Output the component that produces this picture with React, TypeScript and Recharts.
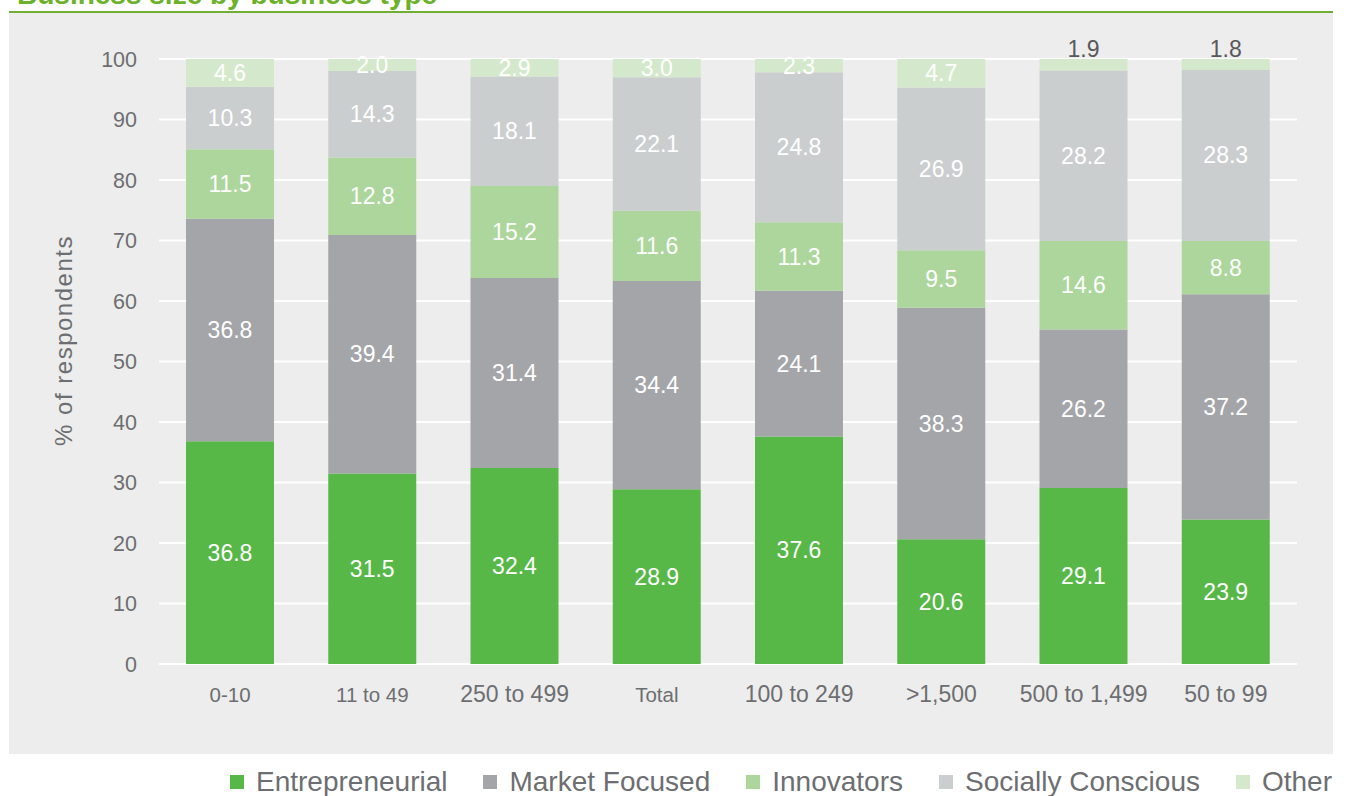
import React from 'react';
import { BarChart, Bar, XAxis, YAxis, CartesianGrid, LabelList } from 'recharts';

const categories = ['0-10', '11 to 49', '250 to 499', 'Total', '100 to 249', '>1,500', '500 to 1,499', '50 to 99'];
const entrepreneurial = [36.8, 31.5, 32.4, 28.9, 37.6, 20.6, 29.1, 23.9];
const marketFocused = [36.8, 39.4, 31.4, 34.4, 24.1, 38.3, 26.2, 37.2];
const innovators = [11.5, 12.8, 15.2, 11.6, 11.3, 9.5, 14.6, 8.8];
const sociallyConscious = [10.3, 14.3, 18.1, 22.1, 24.8, 26.9, 28.2, 28.3];
const other = [4.6, 2.0, 2.9, 3.0, 2.3, 4.7, 1.9, 1.8];
const yTicks = [0, 10, 20, 30, 40, 50, 60, 70, 80, 90, 100];
const seriesNames = ['Entrepreneurial', 'Market Focused', 'Innovators', 'Socially Conscious', 'Other'];
const seriesValues = [entrepreneurial, marketFocused, innovators, sociallyConscious, other];
const seriesColors = ['#57b848', '#a3a5a8', '#acd69c', '#cbcecf', '#d4e9cb'];
const titleText = 'Business size by business type';
const yAxisTitle = '% of respondents';

const data = categories.map((category, i) => {
  const row: Record<string, any> = { category };
  seriesNames.forEach((name, s) => {
    row[name] = seriesValues[s][i];
  });
  return row;
});

const FONT = '"Liberation Sans", Arial, Helvetica, sans-serif';
const TEXT_GREY = '#6d6e71';

const smallTicks = new Set(['0-10', '11 to 49', 'Total']);

const XTick = (props: any) => {
  const { x, y, payload } = props;
  const small = smallTicks.has(payload.value);
  return (
    <text
      x={x}
      y={y + 30}
      textAnchor="middle"
      dominantBaseline="central"
      fill={TEXT_GREY}
      fontSize={small ? 20.5 : 23}
      fontFamily={FONT}
    >
      {payload.value}
    </text>
  );
};

const BarLabel = (props: any) => {
  const { x, y, width, height, value } = props;
  if (value == null) return null;
  const cx = Number(x) + Number(width) / 2;
  const v = Number(value);
  if (v < 2) {
    return (
      <text x={cx} y={Number(y) - 10} textAnchor="middle" dominantBaseline="central" fill="#58595b" fontSize={23} fontFamily={FONT}>
        {v.toFixed(1)}
      </text>
    );
  }
  return (
    <text x={cx} y={Number(y) + Number(height) / 2} textAnchor="middle" dominantBaseline="central" fill="#ffffff" fontSize={23} fontFamily={FONT}>
      {v.toFixed(1)}
    </text>
  );
};

const YLabel = (props: any) => {
  const vb = props.viewBox || {};
  const cx = (vb.x || 0) + 54;
  const cy = (vb.y || 0) + (vb.height || 0) / 2 - 21;
  return (
    <text
      x={cx}
      y={cy}
      transform={`rotate(-90 ${cx} ${cy})`}
      textAnchor="middle"
      dominantBaseline="central"
      fill={TEXT_GREY}
      fontSize={24}
      letterSpacing={1.5}
      fontFamily={FONT}
    >
      {yAxisTitle}
    </text>
  );
};

export default function App() {
  return (
    <div style={{ position: 'absolute', left: 0, top: 0, width: 1349, height: 796, overflow: 'hidden', background: '#ffffff', fontFamily: FONT }}>
      <svg style={{ position: 'absolute', left: 0, top: 0 }} width={1349} height={12}>
        <text x={17} y={4} fill="#6cb12a" fontSize={28} fontWeight="bold" fontFamily={FONT}>
          {titleText}
        </text>
      </svg>
      <div style={{ position: 'absolute', left: 9, top: 11, width: 1324, height: 2, background: '#72ad36' }} />
      <div style={{ position: 'absolute', left: 9, top: 13, width: 1324, height: 741, background: '#ecedec' }} />
      <div style={{ position: 'absolute', left: 9, top: 13 }}>
        <BarChart
          width={1324}
          height={741}
          data={data}
          margin={{ top: 46, right: 36, left: 0, bottom: 30 }}
          barSize={88}
        >
          <CartesianGrid vertical={false} stroke="#ffffff" strokeWidth={2} />
          <XAxis
            dataKey="category"
            axisLine={false}
            tickLine={false}
            tickSize={0}
            tickMargin={0}
            height={60}
            interval={0}
            tick={<XTick />}
          />
          <YAxis
            type="number"
            domain={[0, 100]}
            allowDataOverflow
            ticks={yTicks}
            axisLine={false}
            tickLine={false}
            tickSize={0}
            tickMargin={22}
            width={150}
            tick={{ fill: TEXT_GREY, fontSize: 21.5, fontFamily: FONT }}
            label={<YLabel />}
          />
          {seriesNames.map((name, s) => (
            <Bar key={name} dataKey={name} stackId="a" fill={seriesColors[s]} isAnimationActive={false}>
              <LabelList dataKey={name} content={<BarLabel />} />
            </Bar>
          ))}
        </BarChart>
      </div>
      <div
        style={{
          position: 'absolute',
          right: 17,
          top: 765,
          height: 34,
          display: 'flex',
          alignItems: 'center',
          gap: 36,
        }}
      >
        {seriesNames.map((name, s) => (
          <div key={name} style={{ display: 'flex', alignItems: 'center' }}>
            <span style={{ display: 'inline-block', width: 14, height: 14, background: seriesColors[s], marginRight: 12 }} />
            <span style={{ fontSize: 28, lineHeight: '34px', color: TEXT_GREY, whiteSpace: 'nowrap' }}>{name}</span>
          </div>
        ))}
      </div>
    </div>
  );
}
